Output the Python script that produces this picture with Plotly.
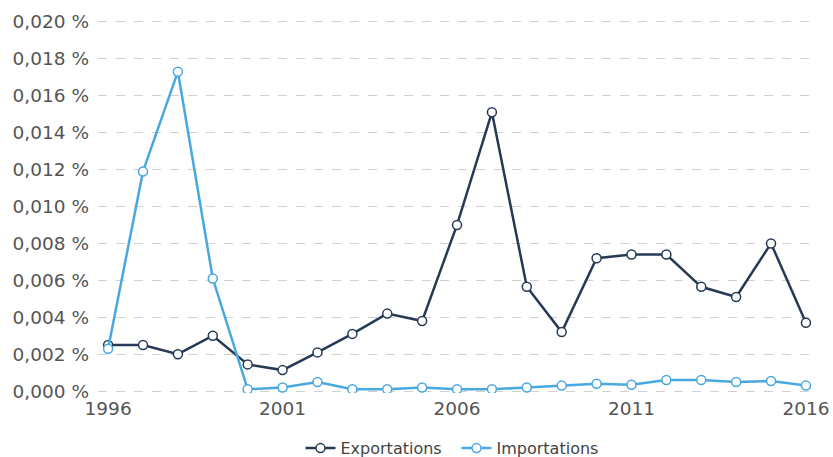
import plotly.graph_objects as go

years = list(range(1996, 2017))
exportations = [0.0025, 0.0025, 0.0020, 0.0030, 0.00145, 0.00114, 0.0021, 0.0031, 0.0042, 0.0038,
                0.0090, 0.0151, 0.00565, 0.0032, 0.0072, 0.0074, 0.0074, 0.00565, 0.0051, 0.0080, 0.0037]
importations = [0.0023, 0.0119, 0.0173, 0.0061, 0.0001, 0.0002, 0.0005, 0.0001, 0.0001, 0.0002,
                0.0001, 0.0001, 0.0002, 0.0003, 0.0004, 0.00035, 0.0006, 0.0006, 0.0005, 0.00055, 0.0003]
x_ticks = [1996, 2001, 2006, 2011, 2016]
y_ticks = [0.000, 0.002, 0.004, 0.006, 0.008, 0.010, 0.012, 0.014, 0.016, 0.018, 0.020]
y_tick_labels = ["0,000 %", "0,002 %", "0,004 %", "0,006 %", "0,008 %", "0,010 %",
                 "0,012 %", "0,014 %", "0,016 %", "0,018 %", "0,020 %"]

exp_color = "#263a55"
imp_color = "#4aa8e0"

fig = go.Figure()
fig.add_trace(go.Scatter(
    x=years, y=exportations, name="Exportations", mode="lines+markers",
    line=dict(color=exp_color, width=2.5),
    marker=dict(symbol="circle", size=9, color="white", line=dict(color=exp_color, width=1.5)),
))
fig.add_trace(go.Scatter(
    x=years, y=importations, name="Importations", mode="lines+markers",
    line=dict(color=imp_color, width=2.5),
    marker=dict(symbol="circle", size=9, color="white", line=dict(color=imp_color, width=1.5)),
))

fig.update_layout(
    width=833, height=457,
    margin=dict(l=98, r=18, t=20, b=64, autoexpand=False),
    paper_bgcolor="white", plot_bgcolor="white",
    font=dict(family="DejaVu Sans", size=18.5, color="#555555"),
    showlegend=True,
    legend=dict(orientation="h", x=0.5, xanchor="center", y=-0.148, yanchor="middle",
                font=dict(size=16, color="#444444"), itemwidth=30, entrywidth=111),
)
fig.update_xaxes(
    range=[1995.71, 2016.26], tickvals=x_ticks, ticktext=[str(v) for v in x_ticks],
    showgrid=False, zeroline=False, showline=False, ticks="", ticklabelstandoff=2,
    automargin=False,
)
fig.update_yaxes(
    range=[-0.0001, 0.0201], tickvals=y_ticks, ticktext=y_tick_labels,
    showgrid=True, gridcolor="#d0d0d0", griddash="dash", gridwidth=1,
    zeroline=False, showline=False, ticks="", ticklabelstandoff=8,
    automargin=False,
)

fig.write_html("out.html", config={"displayModeBar": False},
               post_script="document.body.style.margin='0';document.body.style.overflow='hidden';")
